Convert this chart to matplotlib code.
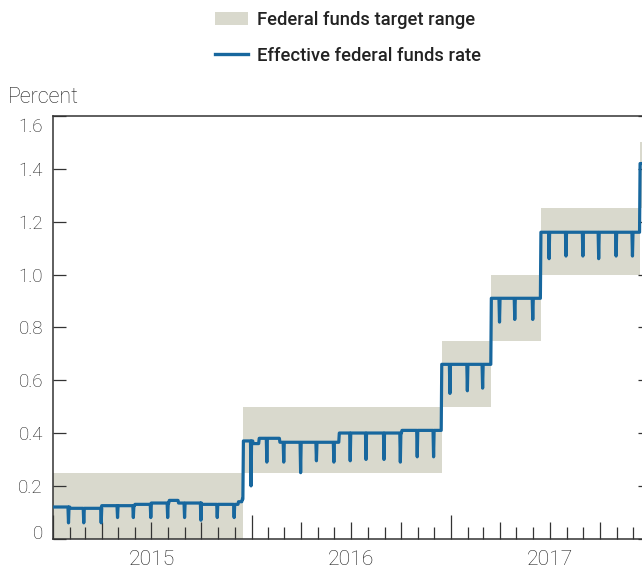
import matplotlib
matplotlib.use('Agg')
import matplotlib.pyplot as plt
import matplotlib.dates as mdates
from matplotlib.patches import Patch
from matplotlib.lines import Line2D
from matplotlib.transforms import ScaledTranslation, blended_transform_factory

plt.rcParams['font.family'] = ['Roboto', 'DejaVu Sans']

# target range: lower bound from each date on (range is 25 bp wide)
range_dates = ['2015-01-01', '2015-12-17', '2016-12-15', '2017-03-16',
               '2017-06-15', '2017-12-14', '2018-01-01']
range_low = [0.0, 0.25, 0.50, 0.75, 1.00, 1.25, 1.25]

# effective rate: level from each date on
level_dates = ['2015-01-01', '2015-02-02', '2015-04-01', '2015-06-01',
               '2015-07-01', '2015-08-03', '2015-08-20', '2015-10-01',
               '2015-12-08', '2015-12-15', '2015-12-17', '2016-01-04',
               '2016-01-15', '2016-02-22', '2016-06-10', '2016-10-03',
               '2016-12-15', '2017-03-16', '2017-06-15', '2017-12-14',
               '2017-12-31']
level_vals = [0.12, 0.115, 0.125, 0.13, 0.135, 0.145, 0.135, 0.13,
              0.14, 0.15, 0.37, 0.36, 0.38, 0.365, 0.40, 0.41,
              0.66, 0.91, 1.16, 1.42, 1.42]

# month-end dips
dip_dates = ['2015-01-30', '2015-02-27', '2015-03-31', '2015-04-30',
             '2015-05-29', '2015-06-30', '2015-07-31', '2015-08-31',
             '2015-09-30', '2015-10-30', '2015-11-30', '2015-12-31',
             '2016-01-29', '2016-02-29', '2016-03-31', '2016-04-29',
             '2016-05-31', '2016-06-30', '2016-07-29', '2016-08-31',
             '2016-09-30', '2016-10-31', '2016-11-30', '2016-12-30',
             '2017-01-31', '2017-02-28', '2017-03-31', '2017-04-28',
             '2017-05-31', '2017-06-30', '2017-07-31', '2017-08-31',
             '2017-09-29', '2017-10-31', '2017-11-30']
dip_vals = [0.06, 0.06, 0.06, 0.08, 0.08, 0.08, 0.08, 0.08,
            0.07, 0.08, 0.08, 0.20,
            0.29, 0.29, 0.25, 0.295, 0.29, 0.295, 0.30, 0.30,
            0.29, 0.31, 0.31, 0.55,
            0.56, 0.57, 0.82, 0.83, 0.83, 1.06, 1.07, 1.07,
            1.06, 1.07, 1.07]

year_labels = ['2015', '2016', '2017']
ytick_vals = [0, 0.2, 0.4, 0.6, 0.8, 1.0, 1.2, 1.4, 1.6]
ytick_labels = ['0', '0.2', '0.4', '0.6', '0.8', '1.0', '1.2', '1.4', '1.6']

box_color = '#d9d9cd'
line_color = '#17679e'
ink = '#333333'
text_ink = '#1e1e1e'

# build the line points: hold each level, drop to the dip value for one day
lv_x = [mdates.datestr2num(d) for d in level_dates]
dp_x = [mdates.datestr2num(d) for d in dip_dates]
xs, ys = [], []
for i in range(len(lv_x) - 1):
    xs.append(lv_x[i])
    ys.append(level_vals[i])
    for d, v in zip(dp_x, dip_vals):
        if lv_x[i] < d < lv_x[i + 1]:
            xs += [d - 1, d, d + 1]
            ys += [level_vals[i], v, level_vals[i]]
    xs.append(lv_x[i + 1] - 1)
    ys.append(level_vals[i])
xs.append(lv_x[-1])
ys.append(level_vals[-1])

fig = plt.figure(figsize=(6.42, 5.69), dpi=100)
ax = fig.add_axes([52.7 / 642, 30.3 / 569, 597.2 / 642, 422.7 / 569])

rx = [mdates.datestr2num(d) for d in range_dates]
ax.fill_between(rx, range_low, [v + 0.25 for v in range_low], step='post',
                color=box_color, lw=0, zorder=1)
ax.plot(xs, ys, color=line_color, lw=2.3, solid_joinstyle='round',
        solid_capstyle='round', zorder=3)

ax.set_xlim(mdates.datestr2num('2015-01-01'), mdates.datestr2num('2018-01-01'))
ax.set_ylim(0, 1.6)

for s in ['left', 'bottom', 'top']:
    ax.spines[s].set_color(ink)
    ax.spines[s].set_linewidth(1.1)
ax.spines['right'].set_visible(False)

ax.set_yticks(ytick_vals)
ax.set_yticklabels(ytick_labels)
ax.tick_params(axis='y', direction='in', length=9, width=0.9, color=ink,
               right=True, labelsize=13.5, labelcolor=text_ink, pad=7)
for lab in ax.get_yticklabels():
    lab.set_fontweight('light')
ylabs = ax.get_yticklabels()
ylabs[0].set_transform(ylabs[0].get_transform() +
                       ScaledTranslation(0, 0.07, fig.dpi_scale_trans))
ylabs[-1].set_transform(ylabs[-1].get_transform() +
                        ScaledTranslation(0, -0.09, fig.dpi_scale_trans))

ax.xaxis.set_major_locator(mdates.YearLocator())
ax.xaxis.set_minor_locator(mdates.MonthLocator(bymonth=range(2, 13)))
ax.tick_params(axis='x', which='major', direction='in', length=17, width=0.9,
               color=ink, labelbottom=False)
ax.tick_params(axis='x', which='minor', direction='in', length=8.6, width=0.9,
               color=ink)
fig.canvas.draw()
for t, loc in zip(ax.xaxis.get_minor_ticks(), ax.xaxis.get_minorticklocs()):
    if mdates.num2date(loc).month in (4, 7, 10):
        t.tick1line.set_markersize(12.2)

trans = blended_transform_factory(ax.transData, ax.transAxes)
for yr in year_labels:
    ax.text(mdates.datestr2num(yr + '-07-02'), -0.0634, yr, transform=trans,
            ha='center', va='baseline', fontsize=15.2, color=text_ink,
            fontweight='light')

fig.text(8 / 642, 1 - 103 / 569, 'Percent', ha='left', va='baseline',
         fontsize=15.5, color=text_ink, fontweight='light')

handles = [Patch(facecolor=box_color, edgecolor='none',
                 label='Federal funds target range'),
           Line2D([], [], color=line_color, lw=2.4,
                  label='Effective federal funds rate')]
leg = fig.legend(handles=handles, loc='upper left',
                 bbox_to_anchor=(215 / 642, 1 - 11 / 569), frameon=False,
                 prop={'size': 13.2, 'weight': 'medium'}, handlelength=1.8,
                 handleheight=0.73, handletextpad=0.5, labelspacing=0.98,
                 borderpad=0, borderaxespad=0)
for t in leg.get_texts():
    t.set_color('#222222')

fig.savefig('out.png', dpi=100)
